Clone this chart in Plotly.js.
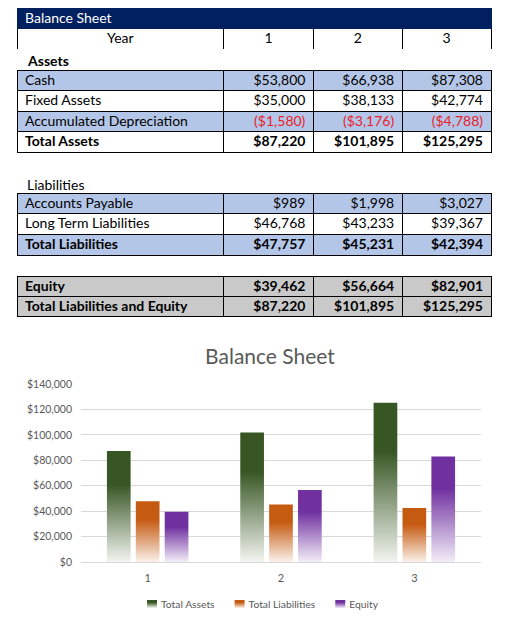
<!DOCTYPE html>
<html>
<head>
<meta charset="utf-8">
<script src="https://cdn.plot.ly/plotly-3.0.1.min.js"></script>
<style>
html,body{margin:0;padding:0;background:#fff;}
#chart{width:518px;height:635px;}
</style>
</head>
<body>
<div id="chart"></div>
<script>
// ---- data ----
const years = ["1", "2", "3"];
const assetLabels = ["Cash", "Fixed Assets", "Accumulated Depreciation", "Total Assets"];
const cash = [53800, 66938, 87308];
const fixedAssets = [35000, 38133, 42774];
const accumDepreciation = [-1580, -3176, -4788];
const totalAssets = [87220, 101895, 125295];
const liabilityLabels = ["Accounts Payable", "Long Term Liabilities", "Total Liabilities"];
const accountsPayable = [989, 1998, 3027];
const longTermLiabilities = [46768, 43233, 39367];
const totalLiabilities = [47757, 45231, 42394];
const equityLabels = ["Equity", "Total Liabilities and Equity"];
const equity = [39462, 56664, 82901];
const totalLiabilitiesEquity = [87220, 101895, 125295];
const seriesNames = ["Total Assets", "Total Liabilities", "Equity"];

// ---- styling ----
const W = 518, H = 635;
const FONT = "Lato, 'Open Sans', sans-serif";
const NAVY = "#002060", BLUE = "#b4c6e7", GRAY = "#c9c9c9", RED = "#e8202a";
const barColors = ["#375623", "#c55a11", "#7030a0"];
const barLight = ["#f3f5f1", "#fbf1ea", "#f3eef8"];
const py = p => 1 - p / H;
const px = p => p / W;
const tblX = [px(17), px(492)];
const colW = [207, 90, 89, 89];
const ALIGN = ["left", "right", "right", "right"];

function money(v) {
  const s = "$" + Math.abs(v).toLocaleString("en-US");
  return v < 0 ? "(" + s + ")" : s;
}

function blockTable(labels, series, bold, rowFill, top, rowH) {
  const n = labels.length;
  const cols = [labels.slice()];
  const colors = [labels.map(() => "#000")];
  for (let j = 0; j < years.length; j++) {
    cols.push(series.map(s => money(s[j])));
    colors.push(series.map(s => s[j] < 0 ? RED : "#000"));
  }
  const weights = cols.map(() => bold.map(b => b ? "bold" : "normal"));
  return {
    type: "table",
    domain: {x: tblX, y: [py(top + n * rowH + 1), py(top)]},
    columnwidth: colW,
    header: {
      values: cols.map(c => [c[0]]),
      height: rowH,
      align: ALIGN,
      fill: {color: cols.map(() => rowFill[0])},
      line: {color: "#000", width: 1},
      font: {family: FONT, size: 14, color: colors.map(c => c[0]), weight: weights.map(w => w[0])}
    },
    cells: {
      values: cols.map(c => c.slice(1)),
      height: rowH,
      align: ALIGN,
      fill: {color: cols.map(() => rowFill.slice(1))},
      line: {color: "#000", width: 1},
      font: {family: FONT, size: 14, color: colors.map(c => c.slice(1)), weight: weights.map(w => w.slice(1))}
    }
  };
}

const headTable = {
  type: "table",
  domain: {x: tblX, y: [py(50), py(8)]},
  columnwidth: colW,
  header: {
    values: [["Balance Sheet"], [""], [""], [""]],
    height: 20,
    align: "left",
    fill: {color: NAVY},
    line: {color: NAVY, width: 1},
    font: {family: FONT, size: 14, color: "#fff"}
  },
  cells: {
    values: [["Year"]].concat(years.map(y => [y])),
    height: 21,
    align: "center",
    fill: {color: "#fff"},
    line: {color: "#000", width: 1},
    font: {family: FONT, size: 14, color: "#000"}
  }
};

const assetsTable = blockTable(assetLabels, [cash, fixedAssets, accumDepreciation, totalAssets],
  [false, false, false, true], [BLUE, "#fff", BLUE, "#fff"], 70, 20.6);
const liabTable = blockTable(liabilityLabels, [accountsPayable, longTermLiabilities, totalLiabilities],
  [false, false, true], [BLUE, "#fff", BLUE], 193, 20.7);
const equityTable = blockTable(equityLabels, [equity, totalLiabilitiesEquity],
  [true, true], [GRAY, GRAY], 276, 20.2);

const barSeries = [totalAssets, totalLiabilities, equity];
const bars = barSeries.map((vals, i) => ({
  type: "bar",
  name: seriesNames[i],
  x: years,
  y: vals,
  marker: {color: barColors[i]},
  xaxis: "x", yaxis: "y"
}));

const layout = {
  width: W, height: H,
  margin: {l: 0, r: 0, t: 0, b: 0},
  paper_bgcolor: "#fff", plot_bgcolor: "#fff",
  font: {family: FONT, color: "#595959"},
  showlegend: true,
  title: {
    text: "Balance Sheet",
    x: px(270), xanchor: "center", xref: "paper",
    y: py(357), yanchor: "middle", yref: "paper",
    font: {family: FONT, size: 21, color: "#595959"}
  },
  barmode: "group",
  bargap: 0.35,
  bargroupgap: 0.18,
  xaxis: {
    domain: [px(81), px(481)],
    type: "category",
    showgrid: false, zeroline: false,
    showline: true, linecolor: "#d9d9d9", linewidth: 1,
    ticks: "", tickfont: {family: FONT, size: 11, color: "#595959"},
    ticklabelstandoff: 6
  },
  yaxis: {
    domain: [py(562), py(384)],
    range: [0, 140000],
    dtick: 20000,
    tickprefix: "$", tickformat: ",d",
    showgrid: true, gridcolor: "#d9d9d9", gridwidth: 1,
    zeroline: false, showline: false, ticks: "",
    tickfont: {family: FONT, size: 10.5, color: "#595959"},
    ticklabelstandoff: 8
  },
  legend: {
    orientation: "h",
    x: px(258), xanchor: "center",
    y: py(604), yanchor: "middle",
    font: {family: FONT, size: 10.3, color: "#595959"},
    itemwidth: 30,
    traceorder: "normal"
  },
  annotations: [
    {text: "<b>Assets</b>", xref: "paper", yref: "paper", x: px(25), y: py(60),
     xanchor: "left", yanchor: "middle", showarrow: false, font: {family: FONT, size: 14, color: "#000"}},
    {text: "Liabilities", xref: "paper", yref: "paper", x: px(25), y: py(184),
     xanchor: "left", yanchor: "middle", showarrow: false, font: {family: FONT, size: 14, color: "#000"}}
  ]
};

const gd = document.getElementById("chart");
Plotly.newPlot(gd, [headTable, assetsTable, liabTable, equityTable].concat(bars), layout,
  {displayModeBar: false, staticPlot: true}).then(() => {
  const NS = "http://www.w3.org/2000/svg";
  // centre table text vertically in its row
  gd.querySelectorAll(".table .cell-text").forEach(t => {
    const tr = t.getAttribute("transform") || "";
    t.setAttribute("transform", (tr + " translate(0,-4)").trim());
  });
  // gradient fills for bars and legend swatches
  const svg = gd.querySelector("svg.main-svg");
  let defs = svg.querySelector("defs");
  if (!defs) { defs = document.createElementNS(NS, "defs"); svg.insertBefore(defs, svg.firstChild); }
  barColors.forEach((c, i) => {
    const g = document.createElementNS(NS, "linearGradient");
    g.setAttribute("id", "barGrad" + i);
    g.setAttribute("x1", "0"); g.setAttribute("y1", "0");
    g.setAttribute("x2", "0"); g.setAttribute("y2", "1");
    [[0, c], [0.3, c], [1, barLight[i]]].forEach(([o, col]) => {
      const s = document.createElementNS(NS, "stop");
      s.setAttribute("offset", o);
      s.setAttribute("stop-color", col);
      g.appendChild(s);
    });
    defs.appendChild(g);
  });
  gd.querySelectorAll(".barlayer .trace").forEach((t, i) => {
    t.querySelectorAll("path").forEach(p => { p.style.fill = "url(#barGrad" + i + ")"; });
  });
  // compact legend: swatch close to its label, Excel-like spacing
  const items = Array.from(gd.querySelectorAll(".legend .traces"));
  if (items.length) {
    const parse = g => {
      const m = /translate\(\s*([-\d.e]+)[ ,]+([-\d.e]+)\s*\)/.exec(g.getAttribute("transform") || "");
      return m ? [parseFloat(m[1]), parseFloat(m[2])] : [0, 0];
    };
    const x0 = parse(items[0])[0];
    let oldEnd = 0, newEnd = 0, x = x0;
    items.forEach((g, i) => {
      g.querySelectorAll(".legendpoints path").forEach(p => {
        p.style.fill = "url(#barGrad" + i + ")";
        p.setAttribute("d", "M5,4H-5V-4H5Z");
      });
      const [ox, oy] = parse(g);
      const txt = g.querySelector("text.legendtext");
      const tw = txt ? txt.getComputedTextLength() : 0;
      oldEnd = ox + 40 + tw;
      if (txt) txt.setAttribute("x", 29);
      g.setAttribute("transform", "translate(" + x + "," + oy + ")");
      newEnd = x + 29 + tw;
      x += tw + 34;
    });
    const shift = (oldEnd - newEnd) / 2;
    items.forEach(g => {
      const [gx, gy] = parse(g);
      g.setAttribute("transform", "translate(" + (gx + shift) + "," + gy + ")");
    });
  }
});
</script>
</body>
</html>
